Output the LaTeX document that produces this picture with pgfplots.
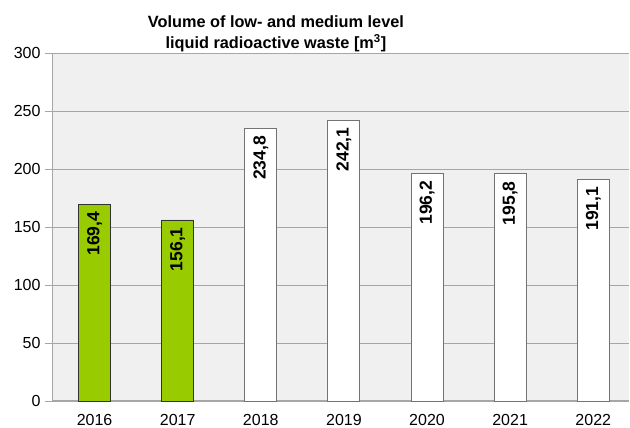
\documentclass[border=0pt]{standalone}
\usepackage{pgfplots}
\pgfplotsset{compat=1.18}
\usepackage{fontspec}
\setmainfont{Liberation Sans}
\definecolor{barGreen}{HTML}{99CC00}
\definecolor{plotBg}{HTML}{F0F0F0}
\definecolor{gridGray}{HTML}{A6A6A6}
\begin{document}
\begin{tikzpicture}
\path[use as bounding box] (-53pt,-27pt) rectangle (577pt,401pt);
\begin{axis}[
	scale only axis,
	width=576pt, height=348pt,
	xmin=-0.5, xmax=6.43,
	ymin=0, ymax=300,
	ytick={0,50,...,300},
	xtick={0,...,6},
	xticklabels={2016,2017,2018,2019,2020,2021,2022},
	axis x line*=bottom, axis y line*=left,
	x axis line style={-, gridGray, line width=1pt},
	y axis line style={-, gridGray, line width=1pt},
	ymajorgrids,
	grid style={gridGray, line width=0.9pt},
	axis background/.style={fill=plotBg},
	major tick length=8pt,
	xtick style={draw=none},
	ytick style={gridGray, line width=0.9pt},
	tick align=outside,
	ticklabel style={font=\fontsize{16}{18}\selectfont},
	/pgf/number format/assume math mode=true,
	yticklabel style={xshift=-1pt},
	xticklabel style={yshift=-2pt},
	ybar, bar width=32pt, bar shift=0pt,
	nodes near coords,
	point meta=explicit symbolic,
	every node near coord/.append style={rotate=90, anchor=east,
		font=\fontsize{17.5}{20}\selectfont\bfseries, inner sep=7pt, color=black},
	clip=false,
]
\addplot[fill=barGreen, draw=black!80, line width=0.8pt] table[meta=lab] {
x y lab
0 169.4 {169,4}
1 156.1 {156,1}
};
\addplot[fill=white, draw=black!55, line width=0.9pt] table[meta=lab] {
x y lab
2 234.8 {234,8}
3 242.1 {242,1}
4 196.2 {196,2}
5 195.8 {195,8}
6 191.1 {191,1}
};
\node[anchor=south, align=center, font=\fontsize{16.3}{21}\selectfont\bfseries, inner sep=1pt]
	at (rel axis cs:0.387,1) {Volume of low- and medium level\\liquid radioactive waste [m\textsuperscript{3}]};
\end{axis}
\end{tikzpicture}
\end{document}
